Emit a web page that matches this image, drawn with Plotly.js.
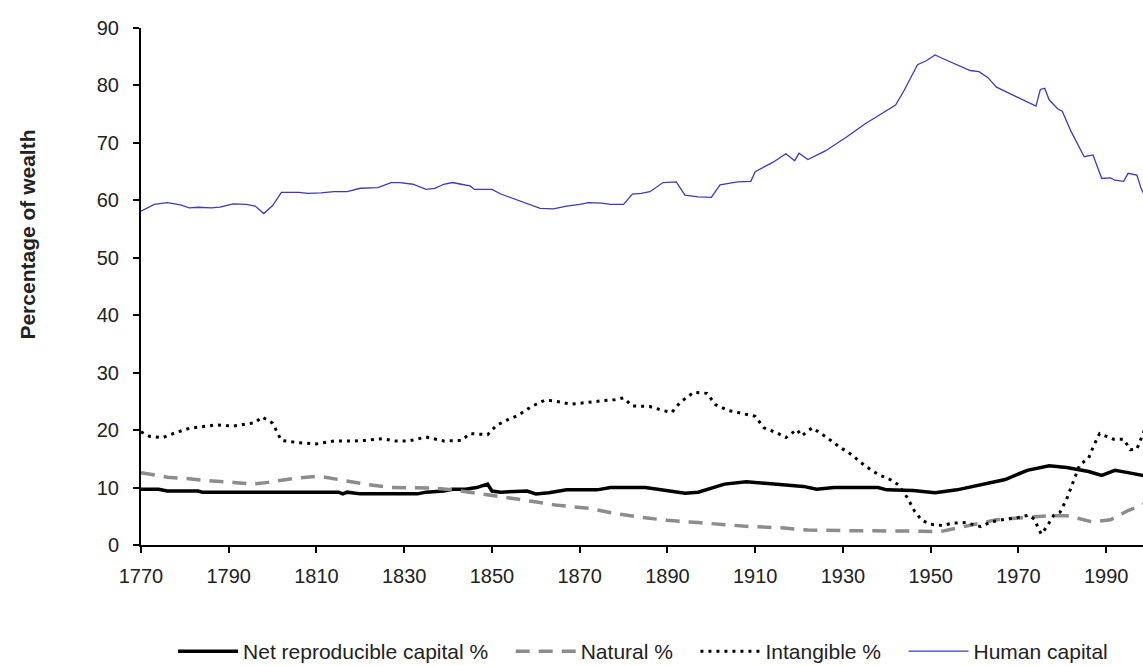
<!DOCTYPE html>
<html>
<head>
<meta charset="utf-8">
<script src="https://cdn.plot.ly/plotly-3.0.1.min.js"></script>
<style>html,body{margin:0;padding:0;background:#fff;}#chart{width:1143px;height:666px;}</style>
</head>
<body>
<div id="chart"></div>
<script>
// Net reproducible capital %
const netYears = [1770,1774,1776,1783,1784,1815,1816,1817,1820,1833,1835,1839,1841,1844,1846.5,1849,1850,1852,1858,1860,1863,1867,1874,1877,1885,1890,1894,1897,1903,1908,1912,1916,1921,1924,1928,1938,1940,1946,1951,1956,1962,1967,1972,1977,1981,1986,1989,1992,1995,1999];
const netValues = [9.7,9.7,9.4,9.4,9.2,9.2,8.9,9.2,8.9,8.9,9.2,9.4,9.7,9.7,10.0,10.6,9.4,9.2,9.4,8.9,9.1,9.6,9.6,10.0,10.0,9.4,9.0,9.2,10.6,11.0,10.8,10.6,10.2,9.7,10.0,10.0,9.6,9.5,9.1,9.6,10.6,11.4,13.0,13.8,13.5,12.8,12.1,13.0,12.6,12.0];

// Natural %
const natYears = [1770,1776,1780,1785,1791,1795.5,1799,1804,1809,1812,1815,1821,1827,1833,1837,1841,1846,1852,1854,1859,1865,1872,1878,1884,1890,1897,1902,1909,1916,1922,1930,1942,1948,1952,1955,1960,1965,1972,1977,1981,1987,1991,1995,1999];
const natValues = [12.6,11.8,11.6,11.2,10.9,10.6,10.9,11.5,11.9,11.8,11.4,10.6,10.0,9.9,9.9,9.6,9.1,8.4,8.2,7.6,6.9,6.4,5.5,4.8,4.3,3.9,3.6,3.2,3.0,2.6,2.5,2.5,2.4,2.3,2.8,3.6,4.4,4.8,5.1,5.1,4.0,4.4,6.0,7.2];

// Intangible %
const intYears = [1770,1772,1775,1778,1781,1784,1787,1791,1794,1796,1797.6,1800,1802,1806,1810,1814,1818,1821,1825,1828,1831,1835,1839,1843,1845,1849,1851,1853,1856,1859,1862,1864,1868,1871,1875,1878,1880,1882,1886,1889,1891,1893,1896,1899,1901,1904,1908,1910,1912,1915,1917,1919.5,1920.6,1923,1926,1929,1932,1935,1938,1941,1942.6,1944.7,1946.4,1948,1950,1952.7,1955,1958,1960,1961.4,1963.7,1967,1970,1972.4,1973.6,1975.2,1976.4,1978,1979.5,1981,1982.5,1984,1986,1987,1988.5,1991.7,1994,1995.5,1997,1998.3,1999];
const intValues = [19.7,18.9,18.7,19.6,20.3,20.6,20.9,20.7,21.0,21.3,22.3,21.2,18.2,17.8,17.6,18.1,18.1,18.2,18.5,18.1,18.1,18.8,18.1,18.2,19.4,19.2,20.8,21.6,22.6,24.1,25.2,25.1,24.5,24.8,25.1,25.3,25.6,24.2,24.1,23.4,23.1,24.9,26.6,26.4,24.4,23.4,22.8,22.4,20.4,19.5,18.7,20.1,19.0,20.4,18.9,17.2,15.7,13.8,12.3,11.3,10.5,8.2,5.8,4.3,3.6,3.4,3.8,3.9,3.5,3.2,4.0,4.5,4.8,5.2,4.5,1.9,3.1,5.1,5.7,8.0,11.0,14.0,15.1,17.0,19.4,18.4,18.4,16.6,16.7,19.4,20.5];

// Human capital
const humYears = [1770,1773,1776,1779,1781,1783,1786,1788,1791,1794,1796,1798,1800,1802,1806,1808,1811,1814,1817,1820,1824,1827,1829,1832,1835,1837,1839,1841,1843,1845,1846,1850,1852,1855,1858,1861,1864,1867,1870,1872,1875,1877,1880,1882,1884,1886,1889,1892,1894,1897,1900,1902,1906,1909,1910,1914,1917,1919,1920,1922,1926,1931,1935,1938,1942,1944,1947,1949,1951,1953,1957,1959,1961,1963,1965,1968,1971,1974,1975,1976,1977,1979,1980,1982,1985,1987,1989,1991,1992,1994,1995,1997,1998,1999];
const humValues = [58.1,59.3,59.6,59.2,58.7,58.8,58.7,58.8,59.4,59.3,59.0,57.7,59.1,61.4,61.4,61.2,61.3,61.5,61.5,62.1,62.2,63.1,63.1,62.8,61.9,62.1,62.8,63.1,62.8,62.5,61.9,61.9,61.1,60.3,59.4,58.6,58.5,59.0,59.3,59.6,59.5,59.3,59.3,61.1,61.2,61.5,63.1,63.2,60.9,60.6,60.5,62.7,63.2,63.3,65.0,66.6,68.1,66.9,68.2,67.1,68.6,71.1,73.3,74.7,76.6,79.2,83.6,84.3,85.3,84.6,83.3,82.6,82.4,81.4,79.7,78.6,77.6,76.4,79.3,79.5,77.5,75.9,75.5,72.0,67.6,67.9,63.8,63.9,63.5,63.3,64.7,64.4,62.0,60.5];

const seriesNames = ['Net reproducible capital %','Natural %','Intangible %','Human capital'];
const xTicks = [1770,1790,1810,1830,1850,1870,1890,1910,1930,1950,1970,1990];
const yTicks = [0,10,20,30,40,50,60,70,80,90];
const yTitle = 'Percentage of wealth';

const FONT = 'Liberation Sans, Arial, sans-serif';
const PAD = '\u00a0\u00a0\u00a0';
const traces = [
  {x: netYears, y: netValues, name: seriesNames[0] + PAD, mode: 'lines',
   line: {color: '#000000', width: 3.5}},
  {x: natYears, y: natValues, name: seriesNames[1] + PAD, mode: 'lines',
   line: {color: '#8c8c8c', width: 3.5, dash: '14px,9px'}},
  {x: intYears, y: intValues, name: seriesNames[2] + PAD, mode: 'lines',
   line: {color: '#000000', width: 3, dash: '3px,5px'}},
  {x: humYears, y: humValues, name: seriesNames[3], mode: 'lines',
   line: {color: '#3a3ac4', width: 1.3}}
];

const layout = {
  width: 1143, height: 666,
  margin: {l: 141, r: 0, t: 28, b: 121, autoexpand: false},
  paper_bgcolor: '#ffffff', plot_bgcolor: '#ffffff',
  font: {family: FONT, size: 20, color: '#222222'},
  showlegend: true,
  legend: {orientation: 'h', x: 0.032, xanchor: 'left', y: -0.206, yanchor: 'middle',
           font: {family: FONT, size: 21, color: '#222222'}, itemwidth: 60, bgcolor: 'rgba(0,0,0,0)'},
  xaxis: {range: [1770, 1998.4], tickvals: xTicks, ticktext: xTicks.map(String),
          showgrid: false, zeroline: false, showline: true, linecolor: '#000', linewidth: 2,
          ticks: 'outside', ticklen: 6, tickwidth: 2, tickcolor: '#000', ticklabelstandoff: 6,
          tickfont: {family: FONT, size: 20, color: '#222222'}},
  yaxis: {range: [0, 90], tickvals: yTicks, showgrid: false, zeroline: false,
          showline: true, linecolor: '#000', linewidth: 2,
          ticks: 'outside', ticklen: 6, tickwidth: 2, tickcolor: '#000', ticklabelstandoff: 10,
          tickfont: {family: FONT, size: 20, color: '#222222'}},
  annotations: [{text: yTitle, textangle: -90, showarrow: false,
                 xref: 'paper', yref: 'paper', x: -0.113, y: 0.60, xanchor: 'center', yanchor: 'middle',
                 font: {family: FONT, size: 21, color: '#222222', weight: 'bold'}}]
};

Plotly.newPlot('chart', traces, layout, {displayModeBar: false, staticPlot: true});
</script>
</body>
</html>
